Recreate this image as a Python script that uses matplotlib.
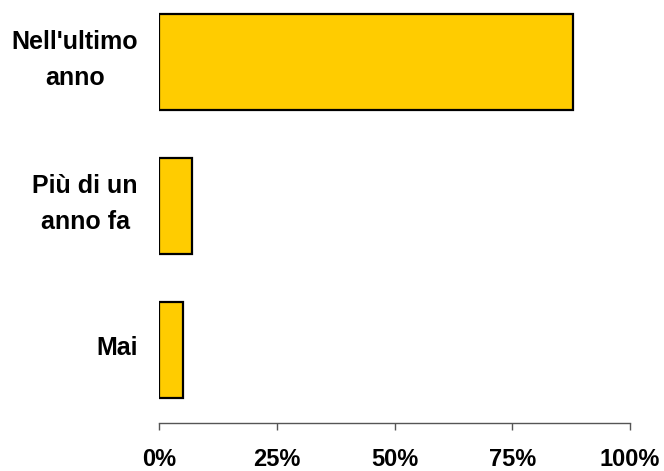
import matplotlib
matplotlib.use('Agg')
from matplotlib import pyplot as plt

categories = ["Nell'ultimo\nanno", 'Più di un\nanno fa', 'Mai']
values = [88, 7, 5]
xticks = [0, 25, 50, 75, 100]
xtick_labels = ['0%', '25%', '50%', '75%', '100%']

plt.rcParams['font.family'] = ['Liberation Sans', 'DejaVu Sans']

fig = plt.figure(figsize=(6.64, 4.71), dpi=100)
ax = fig.add_axes([159 / 664, 48 / 471, 471 / 664, 423 / 471])

ypos = list(range(len(categories)))
ax.barh(ypos, values, height=0.667, color='#FFCC00',
        edgecolor='black', linewidth=1.6)

ax.set_xlim(0, 100)
ax.set_ylim(2.507, -0.431)

for s in ['top', 'right', 'left']:
    ax.spines[s].set_visible(False)
ax.spines['bottom'].set_color('#555555')
ax.spines['bottom'].set_linewidth(1)

ax.set_xticks(xticks)
ax.set_xticklabels(xtick_labels, fontsize=17, fontweight='bold')
ax.tick_params(axis='x', length=5, width=1, color='#555555', pad=13)

ax.set_yticks([])
for y, lab in zip(ypos, categories):
    ax.annotate(lab, xy=(0, y), xycoords=('axes fraction', 'data'),
                xytext=(-21, 2), textcoords='offset pixels',
                ha='right', va='center', multialignment='center',
                fontsize=18, fontweight='bold', linespacing=1.6)

fig.savefig('out.png', dpi=100)
